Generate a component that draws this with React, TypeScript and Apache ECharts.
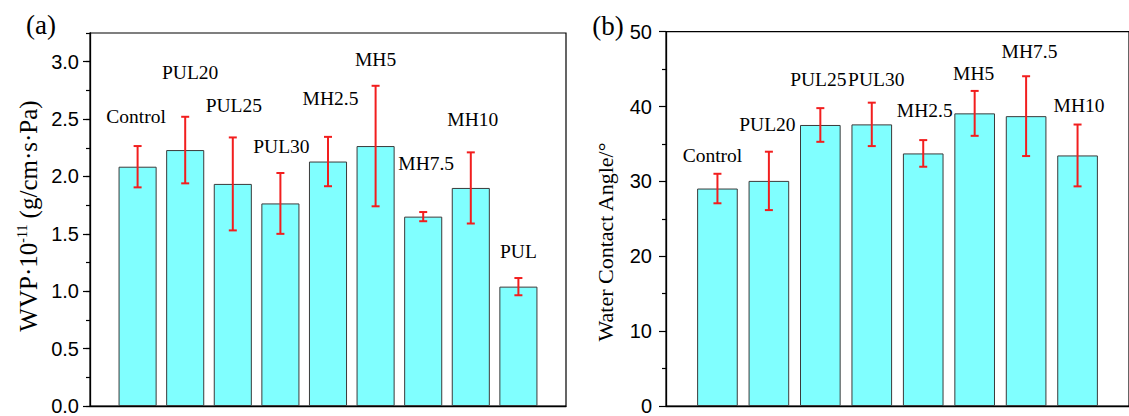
import React, { useEffect, useRef } from "react";
import * as echarts from "echarts";

// ---- Data ----
const wvpCategories = ["Control", "PUL20", "PUL25", "PUL30", "MH2.5", "MH5", "MH7.5", "MH10", "PUL"];
const wvpValues = [2.085, 2.23, 1.935, 1.765, 2.13, 2.265, 1.65, 1.9, 1.04];
const wvpErrors = [0.18, 0.29, 0.405, 0.265, 0.215, 0.525, 0.04, 0.31, 0.075];
const wvpLabelY = [2.52, 2.905, 2.62, 2.264, 2.678, 3.016, 2.11, 2.496, 1.346];
const wvpLabelDx = [-1.5, 5, 1, 1, 2.5, 0, 3, 2, 0];

const wcaCategories = ["Control", "PUL20", "PUL25", "PUL30", "MH2.5", "MH5", "MH7.5", "MH10"];
const wcaValues = [29.05, 30.07, 37.54, 37.62, 33.74, 39.09, 38.72, 33.47];
const wcaErrors = [1.97, 3.9, 2.25, 2.9, 1.78, 3.0, 5.33, 4.13];
const wcaLabelY = [33.43, 37.56, 43.65, 43.65, 39.47, 44.45, 47.33, 40.09];
const wcaLabelDx = [-5, -1.5, -2, 4.5, 1.5, -1, 3.4, 1.5];

const wvpTicks = ["0.0", "0.5", "1.0", "1.5", "2.0", "2.5", "3.0"];
const wcaTicks = ["0", "10", "20", "30", "40", "50"];

const SERIF = "Liberation Serif";
const SANS = "Liberation Sans";
const BAR_FILL = "#80FFFF";
const BAR_BORDER = "#3a3a3a";
const ERR_COLOR = "#F21E1E";

function padded<T>(arr: T[]): (T | null)[] {
  return [null, ...arr, null];
}

function errorRender(params: any, api: any) {
  const x = api.value(0);
  const lo = api.value(1);
  const hi = api.value(2);
  const pLo = api.coord([x, lo]);
  const pHi = api.coord([x, hi]);
  const w = 4;
  const style = { stroke: ERR_COLOR, lineWidth: 2 };
  return {
    type: "group",
    children: [
      { type: "line", shape: { x1: pHi[0], y1: pHi[1], x2: pLo[0], y2: pLo[1] }, style },
      { type: "line", shape: { x1: pHi[0] - w, y1: pHi[1], x2: pHi[0] + w, y2: pHi[1] }, style },
      { type: "line", shape: { x1: pLo[0] - w, y1: pLo[1], x2: pLo[0] + w, y2: pLo[1] }, style },
    ],
  };
}

function makeLabelRender(names: string[]) {
  return (params: any, api: any) => {
    const x = api.value(0);
    const y = api.value(1);
    const dx = api.value(2);
    const p = api.coord([x, y]);
    return {
      type: "text",
      x: p[0] + dx,
      y: p[1],
      style: {
        text: names[x - 1],
        fontFamily: SERIF,
        fontSize: 19.5,
        fontWeight: "normal",
        fill: "#000",
        align: "center",
        verticalAlign: "middle",
        textAlign: "center",
        textVerticalAlign: "middle",
      },
    };
  };
}

export default function App() {
  const ref = useRef<HTMLDivElement>(null);

  useEffect(() => {
    if (!ref.current) return;
    const chart = echarts.init(ref.current, null, { renderer: "svg" });

    const leftCats = padded(wvpCategories).map((c) => c ?? "");
    const rightCats = padded(wcaCategories).map((c) => c ?? "");

    const commonX = {
      type: "category",
      boundaryGap: false,
      axisTick: { show: false },
      axisLabel: { show: false },
      axisLine: { show: true, lineStyle: { color: "#000", width: 1.3 } },
      splitLine: { show: false },
    };

    const option: any = {
      animation: false,
      grid: [
        { left: 90, top: 33, width: 476, height: 375, show: true, borderColor: "#000", borderWidth: 1.2, backgroundColor: "transparent" },
        { left: 666, top: 31.7, width: 475.5, height: 375, show: true, borderColor: "#000", borderWidth: 1.2, backgroundColor: "transparent" },
      ],
      xAxis: [
        { ...commonX, gridIndex: 0, data: leftCats },
        { ...commonX, gridIndex: 1, data: rightCats },
      ],
      yAxis: [
        {
          type: "value",
          gridIndex: 0,
          min: 0,
          max: 3.25,
          interval: 0.5,
          axisLine: { show: true, lineStyle: { color: "#000", width: 1.3 } },
          axisTick: { show: true, length: 7, lineStyle: { color: "#000", width: 1.2 } },
          axisLabel: {
            show: true,
            margin: 11,
            fontFamily: SANS,
            fontSize: 20,
            color: "#000",
            showMaxLabel: false,
            formatter: (v: number) => {
              const i = Math.round(v / 0.5);
              return Math.abs(v - i * 0.5) < 1e-6 && wvpTicks[i] ? wvpTicks[i] : "";
            },
          },
          splitLine: { show: false },
        },
        {
          type: "value",
          gridIndex: 0,
          min: 0,
          max: 3.25,
          interval: 0.25,
          position: "left",
          axisLine: { show: false },
          axisTick: { show: true, length: 4, lineStyle: { color: "#000", width: 1.2 } },
          axisLabel: { show: false },
          splitLine: { show: false },
        },
        {
          type: "value",
          gridIndex: 1,
          min: 0,
          max: 50,
          interval: 10,
          axisLine: { show: true, lineStyle: { color: "#000", width: 1.3 } },
          axisTick: { show: true, length: 7, lineStyle: { color: "#000", width: 1.2 } },
          minorTick: { show: true, splitNumber: 2, length: 4, lineStyle: { color: "#000", width: 1.2 } },
          axisLabel: {
            show: true,
            margin: 14,
            fontFamily: SANS,
            fontSize: 20,
            color: "#000",
            formatter: (v: number) => wcaTicks[Math.round(v / 10)] ?? "",
          },
          splitLine: { show: false },
        },
      ],
      graphic: [
        {
          type: "text",
          x: 41,
          y: 25,
          style: { text: "(a)", fontFamily: SERIF, fontSize: 27, fill: "#000", align: "center", verticalAlign: "middle", textAlign: "center", textVerticalAlign: "middle" },
        },
        {
          type: "text",
          x: 608,
          y: 26,
          style: { text: "(b)", fontFamily: SERIF, fontSize: 27, fill: "#000", align: "center", verticalAlign: "middle", textAlign: "center", textVerticalAlign: "middle" },
        },
        {
          type: "text",
          x: 28,
          y: 216,
          rotation: Math.PI / 2,
          style: {
            text: "{n|WVP·10}{s|-11}{n| (g/cm·s·Pa)}",
            rich: {
              n: { fontFamily: SERIF, fontSize: 25, fill: "#000" },
              s: { fontFamily: SERIF, fontSize: 14, fill: "#000", verticalAlign: "top" },
            },
            fontFamily: SERIF,
            fontSize: 25,
            fill: "#000",
            align: "center",
            verticalAlign: "middle",
            textAlign: "center",
            textVerticalAlign: "middle",
          },
        },
        {
          type: "text",
          x: 605,
          y: 242,
          rotation: Math.PI / 2,
          style: {
            text: "Water Contact Angle/°",
            fontFamily: SERIF,
            fontSize: 22,
            fill: "#000",
            align: "center",
            verticalAlign: "middle",
            textAlign: "center",
            textVerticalAlign: "middle",
          },
        },
      ],
      series: [
        {
          type: "bar",
          xAxisIndex: 0,
          yAxisIndex: 0,
          barWidth: "80%",
          data: padded(wvpValues),
          itemStyle: { color: BAR_FILL, borderColor: BAR_BORDER, borderWidth: 1 },
        },
        {
          type: "bar",
          xAxisIndex: 1,
          yAxisIndex: 2,
          barWidth: "79%",
          data: padded(wcaValues),
          itemStyle: { color: BAR_FILL, borderColor: BAR_BORDER, borderWidth: 1 },
        },
        {
          type: "custom",
          xAxisIndex: 0,
          yAxisIndex: 0,
          renderItem: errorRender,
          encode: { x: 0, y: [1, 2] },
          data: wvpValues.map((v, i) => [i + 1, v - wvpErrors[i], v + wvpErrors[i]]),
          z: 5,
        },
        {
          type: "custom",
          xAxisIndex: 1,
          yAxisIndex: 2,
          renderItem: errorRender,
          encode: { x: 0, y: [1, 2] },
          data: wcaValues.map((v, i) => [i + 1, v - wcaErrors[i], v + wcaErrors[i]]),
          z: 5,
        },
        {
          type: "custom",
          xAxisIndex: 0,
          yAxisIndex: 0,
          renderItem: makeLabelRender(wvpCategories),
          encode: { x: 0, y: 1 },
          data: wvpLabelY.map((y, i) => [i + 1, y, wvpLabelDx[i]]),
          clip: false,
          z: 6,
        },
        {
          type: "custom",
          xAxisIndex: 1,
          yAxisIndex: 2,
          renderItem: makeLabelRender(wcaCategories),
          encode: { x: 0, y: 1 },
          data: wcaLabelY.map((y, i) => [i + 1, y, wcaLabelDx[i]]),
          clip: false,
          z: 6,
        },
      ],
    };

    chart.setOption(option);
    return () => chart.dispose();
  }, []);

  return (
    <div
      ref={ref}
      style={{ position: "absolute", left: 0, top: 0, width: 1129, height: 416, background: "#fff" }}
    />
  );
}
